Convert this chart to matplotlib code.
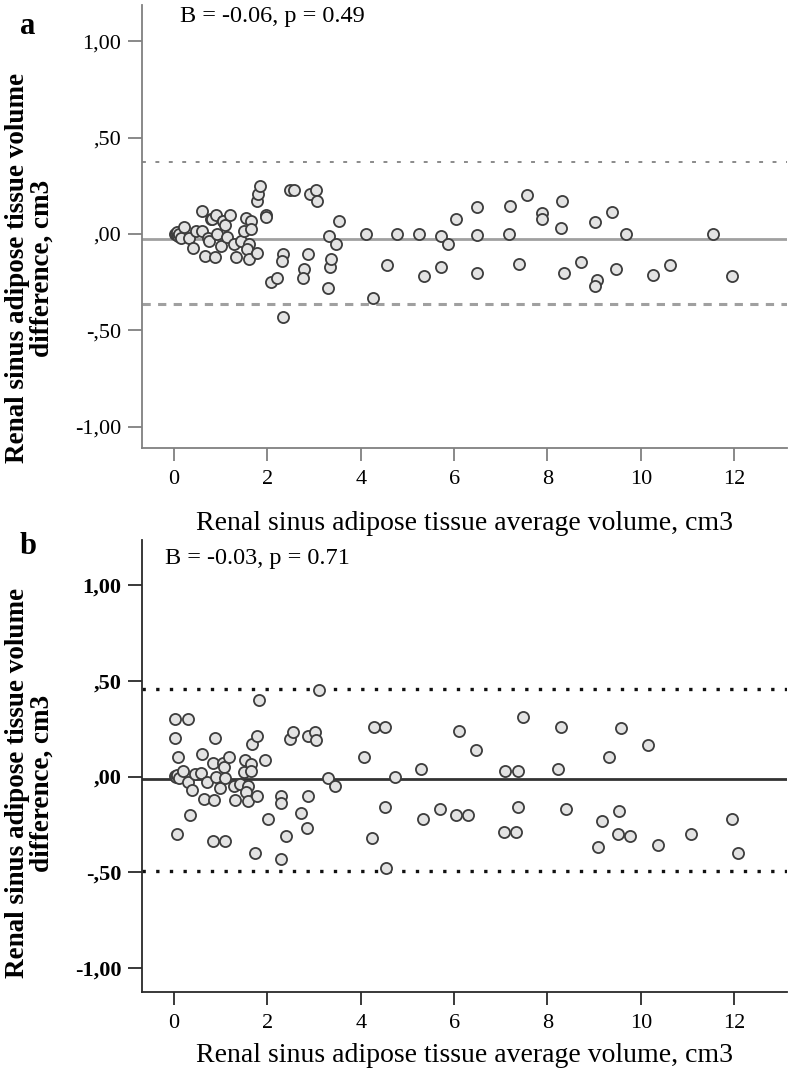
import matplotlib
matplotlib.use("Agg")
import matplotlib.pyplot as plt

plt.rcParams['font.family'] = ['Liberation Serif', 'DejaVu Serif']

# ---- panel a: average volume vs difference
a_x = [0.02, 0.04, 0.06, 0.08, 0.10, 0.15, 0.22, 0.32, 0.41, 0.47, 0.61, 0.61, 0.66, 0.73, 0.74,
       0.79, 0.82, 0.90, 0.88, 0.92, 1.00, 1.04, 1.06, 1.09, 1.13, 1.20, 1.29, 1.33, 1.43, 1.54,
       1.51, 1.66, 1.66, 1.61, 1.56, 1.61, 1.78, 1.78, 1.79, 1.85, 1.97, 1.98, 2.08, 2.20, 2.33,
       2.31, 2.33, 2.49, 2.56, 2.79, 2.76, 2.88, 2.91, 3.05, 3.06, 3.29, 3.33, 3.34, 3.36, 3.47,
       3.54, 4.11, 4.27, 4.56, 4.77, 5.25, 5.36, 5.72, 5.86, 5.72, 6.04, 6.48, 6.48, 6.48, 7.20,
       7.17, 7.39, 7.57, 7.89, 7.88, 8.32, 8.29, 8.36, 8.72, 9.02, 9.05, 9.02, 9.38, 9.68, 9.46,
       10.26, 10.62, 11.55, 11.96]
a_y = [0.00, 0.00, 0.01, -0.01, 0.00, -0.02, 0.036, -0.02, -0.07, 0.016, 0.12, 0.016, -0.115, -0.02, -0.036,
       0.076, 0.08, 0.10, -0.12, 0.00, -0.06, 0.07, 0.07, 0.047, -0.016, 0.10, -0.054, -0.12, -0.036, 0.085,
       0.016, 0.068, 0.024, -0.054, -0.08, -0.13, -0.097, 0.17, 0.21, 0.25, 0.10, 0.09, -0.25, -0.23, -0.106,
       -0.14, -0.43, 0.23, 0.23, -0.18, -0.23, -0.106, 0.21, 0.23, 0.17, -0.28, -0.01, -0.17, -0.13, -0.054,
       0.068, 0.00, -0.33, -0.16, 0.00, 0.00, -0.22, -0.01, -0.054, -0.17, 0.076, 0.14, -0.005, -0.20, 0.146,
       0.00, -0.155, 0.20, 0.11, 0.076, 0.17, 0.033, -0.20, -0.146, 0.064, -0.24, -0.27, 0.116, 0.00, -0.18,
       -0.21, -0.16, 0.00, -0.22]
a_mean, a_upper, a_lower = -0.026, 0.373, -0.363
a_text = "B = -0.06, p = 0.49"

# ---- panel b
b_x = [0.02, 0.29, 0.02, 0.08, 0.06, 0.34, 0.02, 0.04, 0.06, 0.10, 0.20, 0.31, 0.39, 0.45, 0.59,
       0.58, 0.64, 0.71, 0.84, 0.88, 0.85, 0.90, 0.83, 0.98, 1.04, 1.07, 1.10, 1.09, 1.18, 1.28,
       1.30, 1.41, 1.52, 1.50, 1.64, 1.64, 1.59, 1.55, 1.59, 1.77, 1.68, 1.77, 1.82, 1.73, 1.96,
       2.02, 2.30, 2.29, 2.39, 2.30, 2.48, 2.55, 2.73, 2.87, 2.84, 2.88, 3.03, 3.05, 3.10, 3.30,
       3.44, 4.08, 4.28, 4.53, 4.24, 4.53, 4.54, 4.74, 5.29, 5.33, 5.70, 6.05, 6.30, 6.11, 6.47,
       7.09, 7.36, 7.48, 7.36, 7.06, 7.32, 8.23, 8.30, 8.39, 9.32, 9.57, 9.17, 9.08, 9.54, 9.50,
       9.76, 10.16, 10.36, 11.07, 11.95, 12.07]
b_y = [0.30, 0.30, 0.20, 0.10, -0.30, -0.20, 0.005, 0.00, 0.01, -0.01, 0.03, -0.03, -0.07, 0.014, 0.12,
       0.02, -0.116, -0.03, 0.07, 0.20, -0.12, 0.00, -0.335, -0.06, 0.07, 0.05, -0.01, -0.335, 0.10, -0.05,
       -0.12, -0.04, 0.087, 0.026, 0.066, 0.03, -0.05, -0.08, -0.13, -0.10, 0.17, 0.21, 0.40, -0.40, 0.088,
       -0.22, -0.10, -0.136, -0.31, -0.43, 0.195, 0.23, -0.19, -0.10, -0.27, 0.21, 0.23, 0.19, 0.45, -0.01,
       -0.05, 0.10, 0.26, 0.26, -0.32, -0.16, -0.475, 0.00, 0.04, -0.22, -0.17, -0.20, -0.20, 0.24, 0.14,
       0.03, 0.03, 0.31, -0.16, -0.29, -0.29, 0.04, 0.26, -0.17, 0.10, 0.255, -0.23, -0.37, -0.18, -0.30,
       -0.31, 0.166, -0.36, -0.30, -0.22, -0.40]
b_mean, b_upper, b_lower = -0.013, 0.457, -0.493
b_text = "B = -0.03, p = 0.71"

y_ticks = [1.0, 0.5, 0.0, -0.5, -1.0]
y_labels = ["1,00", ",50", ",00", "-,50", "-1,00"]
x_ticks = [0, 2, 4, 6, 8, 10, 12]
xlabel = "Renal sinus adipose tissue average volume, cm3"
ylabel = "Renal sinus adipose tissue volume\ndifference, cm3"

fig = plt.figure(figsize=(7.92, 10.85), dpi=100)
W, H = 792, 1085


def make_axes(top, bottom):
    return fig.add_axes([142 / W, 1 - bottom / H, (787 - 142) / W, (bottom - top) / H])


def style(ax, col, ylim, bold_y, xpad):
    ax.set_xlim(-0.685, 13.13)
    ax.set_ylim(*ylim)
    for s in ["top", "right"]:
        ax.spines[s].set_visible(False)
    for s in ["left", "bottom"]:
        ax.spines[s].set_color(col)
        ax.spines[s].set_linewidth(1.3)
    ax.set_yticks(y_ticks)
    ax.set_yticklabels(y_labels, fontsize=16, fontweight="bold" if bold_y else "normal")
    ax.set_xticks(x_ticks)
    ax.set_xticklabels([str(t) for t in x_ticks], fontsize=16)
    ax.tick_params(axis="y", length=10, width=1.3, color=col, pad=5)
    ax.tick_params(axis="x", length=9, width=1.3, color=col, pad=7)
    ax.set_xlabel(xlabel, fontsize=20, labelpad=xpad)


marker_kw = dict(marker="o", ls="none", ms=8, mfc="#e3e3e3", mec="#3c3c3c", mew=1.3, zorder=3)

# panel a
ax1 = make_axes(5, 448)
style(ax1, "#808080", (-1.109, 1.187), False, 16)
ax1.axhline(a_mean, color="#a0a0a0", lw=2.0, zorder=1)
ax1.axhline(a_upper, color="#8a8a8a", lw=1.4, ls=(0, (2, 4.9)), zorder=1)
ax1.axhline(a_lower, color="#a0a0a0", lw=2.2, ls=(0, (2.7, 2.4)), zorder=1)
ax1.plot(a_x, a_y, **marker_kw)
ax1.text(0.059, 0.975, a_text, transform=ax1.transAxes, fontsize=17.5, va="center", ha="left")

# panel b
ax2 = make_axes(540, 992)
style(ax2, "#2a2a2a", (-1.125, 1.235), True, 7)
ax2.axhline(b_mean, color="#333333", lw=2.0, zorder=1)
ax2.axhline(b_upper, color="#111111", lw=2.4, ls=(0, (1, 3.1)), zorder=1)
ax2.axhline(b_lower, color="#111111", lw=2.4, ls=(0, (1, 3.1)), zorder=1)
ax2.plot(b_x, b_y, **marker_kw)
ax2.text(0.036, 0.96, b_text, transform=ax2.transAxes, fontsize=17.5, va="center", ha="left")

# y labels and panel letters
fig.text(30 / W, 1 - 268 / H, ylabel, rotation=90, ha="center", va="center",
         fontsize=19.5, fontweight="bold", linespacing=1.0)
fig.text(30 / W, 1 - 783 / H, ylabel, rotation=90, ha="center", va="center",
         fontsize=19.5, fontweight="bold", linespacing=1.0)
fig.text(20 / W, 1 - 27 / H, "a", fontsize=22, fontweight="bold", ha="left", va="center")
fig.text(20 / W, 1 - 547 / H, "b", fontsize=22, fontweight="bold", ha="left", va="center")

fig.savefig("out.png", dpi=100)
